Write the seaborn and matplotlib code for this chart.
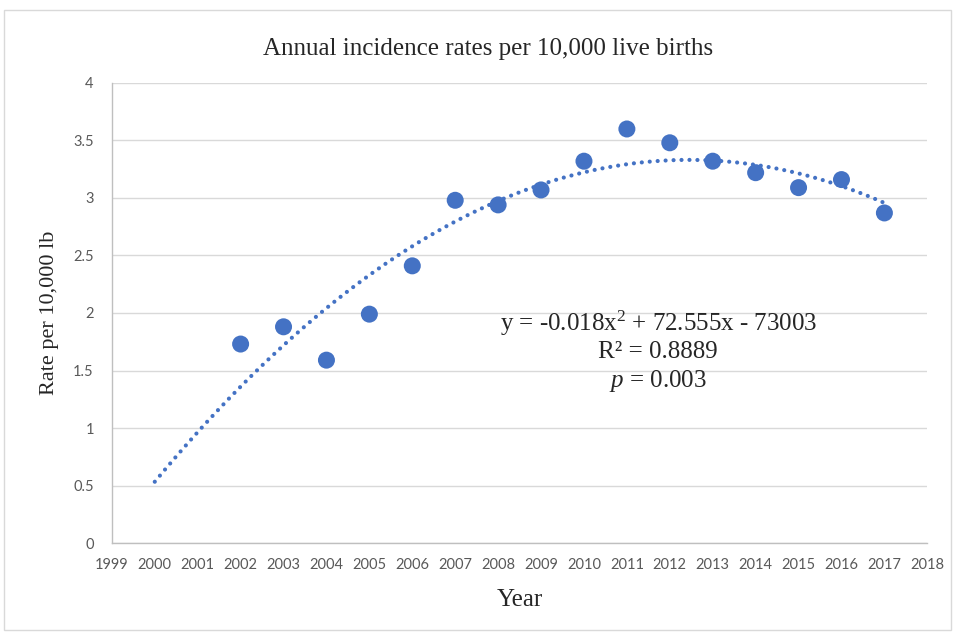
import matplotlib.pyplot as plt
import matplotlib
import numpy as np
import seaborn as sns
from matplotlib.patches import Rectangle

years = [2002, 2003, 2004, 2005, 2006, 2007, 2008, 2009,
         2010, 2011, 2012, 2013, 2014, 2015, 2016, 2017]
rates = [1.73, 1.88, 1.59, 1.99, 2.41, 2.98, 2.94, 3.07,
         3.32, 3.60, 3.48, 3.32, 3.22, 3.09, 3.16, 2.87]
trend_start, trend_end = 2000, 2017

sns.set_style("white")
matplotlib.rcParams['font.family'] = ['Liberation Serif', 'DejaVu Serif']
matplotlib.rcParams['mathtext.fontset'] = 'custom'
matplotlib.rcParams['mathtext.rm'] = 'Liberation Serif'
matplotlib.rcParams['mathtext.it'] = 'Liberation Serif:italic'

blue = '#4472C4'

fig = plt.figure(figsize=[9.56, 6.32], dpi=100)
ax = fig.add_axes([0.117, 0.1408, 0.853, 0.7279])

# polynomial (order 2) trendline, extended back to 2000 like Excel's forecast
coef = np.polyfit(np.array(years) - 2000, rates, 2)
tx = np.linspace(trend_start, trend_end, 300)
ty = np.polyval(coef, tx - 2000)
sns.lineplot(x=tx, y=ty, ax=ax, color=blue, lw=3.0,
             linestyle=(0, (0.01, 1.9)), dash_capstyle='round', zorder=2)

sns.scatterplot(x=years, y=rates, ax=ax, color=blue, s=150,
                edgecolor='none', zorder=3)

ax.set_xlim(1999, 2018)
ax.set_ylim(0, 4)
ax.set_xticks(range(1999, 2019))
ax.set_yticks(np.arange(0, 4.01, 0.5))
ax.set_yticklabels(['0', '0.5', '1', '1.5', '2', '2.5', '3', '3.5', '4'])
ax.grid(axis='y', color='#D9D9D9', lw=1)
ax.set_axisbelow(True)
for side in ['top', 'right']:
    ax.spines[side].set_visible(False)
for side in ['left', 'bottom']:
    ax.spines[side].set_color('#BFBFBF')
    ax.spines[side].set_linewidth(1)
ax.tick_params(length=0, labelsize=10.5, labelcolor='#595959')
ax.tick_params(axis='x', pad=11)
ax.tick_params(axis='y', pad=13)
for lab in ax.get_xticklabels() + ax.get_yticklabels():
    lab.set_family('Lato')

ax.set_title('Annual incidence rates per 10,000 live births', fontsize=18,
             pad=20, x=0.461)
ax.set_xlabel('Year', fontsize=18, labelpad=12)
ax.set_ylabel('Rate per 10,000 lb', fontsize=16, labelpad=10)

ax.text(0.67, 0.478, 'y = -0.018x$^{2}$ + 72.555x - 73003', transform=ax.transAxes,
        ha='center', va='center', fontsize=18)
ax.text(0.67, 0.415, 'R² = 0.8889', transform=ax.transAxes,
        ha='center', va='center', fontsize=18)
ax.text(0.67, 0.352, '$\\it{p}$ = 0.003', transform=ax.transAxes,
        ha='center', va='center', fontsize=18)

# chart area border
fig.add_artist(Rectangle((4 / 956, 2 / 632), 947 / 956, 620 / 632,
                         transform=fig.transFigure, fill=False,
                         edgecolor='#D9D9D9', lw=1))

plt.savefig('out.png', dpi=100)
plt.close(fig)
